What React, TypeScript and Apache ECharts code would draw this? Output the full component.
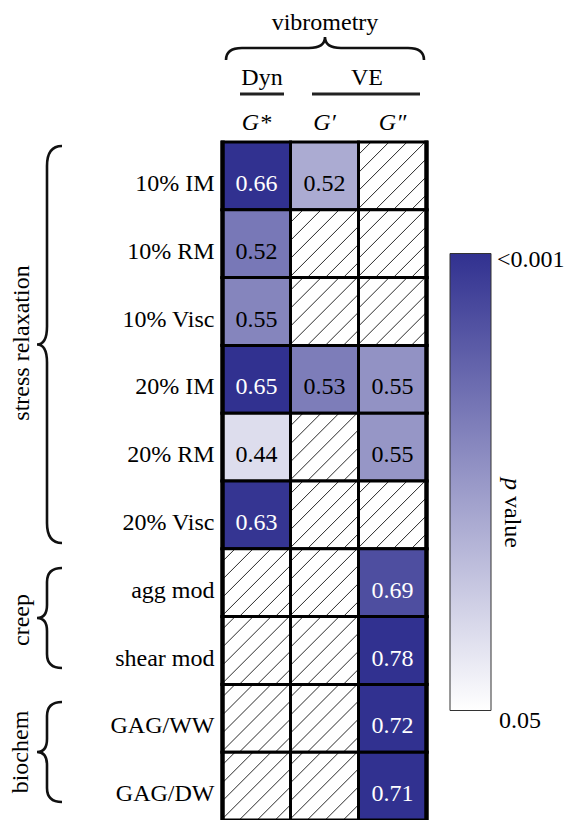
import React, { useEffect, useRef } from "react";
import * as echarts from "echarts";

const rowLabels = ["10% IM", "10% RM", "10% Visc", "20% IM", "20% RM", "20% Visc", "agg mod", "shear mod", "GAG/WW", "GAG/DW"];
const colLabels = ["G*", "G\u2032", "G\u2033"];

// correlation coefficients (r) shown in the cells; null = not significant (hatched)
const rGStar = [0.66, 0.52, 0.55, 0.65, 0.44, 0.63, null, null, null, null];
const rGPrime = [0.52, null, null, 0.53, null, null, null, null, null, null];
const rGDouble = [null, null, null, 0.55, 0.55, null, 0.69, 0.78, 0.72, 0.71];

// p values (colour), estimated from the colour scale
const pGStar = [0.001, 0.018, 0.021, 0.001, 0.042, 0.002, null, null, null, null];
const pGPrime = [0.03, null, null, 0.019, null, null, null, null, null, null];
const pGDouble = [null, null, null, 0.024, 0.025, null, 0.008, 0.001, 0.001, 0.001];

const pMin = 0.001;
const pMax = 0.05;
const scaleLabels = ["<0.001", "0.05"];
const groupLabels = ["stress relaxation", "creep", "biochem"];

const DARK = "#313190";
const LIGHT = "#ffffff";
const FONT = "'Liberation Serif', 'Times New Roman', serif";
const FS = 24;

const braceV = (xe: number, y0: number, y1: number, xs: number, xt: number, aEnd: number, aTip: number) => {
  const ym = (y0 + y1) / 2;
  return `M${xe} ${y0} Q${xs} ${y0} ${xs} ${y0 + aEnd} L${xs} ${ym - aTip} Q${xs} ${ym} ${xt} ${ym} Q${xs} ${ym} ${xs} ${ym + aTip} L${xs} ${y1 - aEnd} Q${xs} ${y1} ${xe} ${y1}`;
};
const braceH = (x0: number, x1: number, ye: number, ys: number, yt: number, aEnd: number, aTip: number) => {
  const xm = (x0 + x1) / 2;
  return `M${x0} ${ye} Q${x0} ${ys} ${x0 + aEnd} ${ys} L${xm - aTip} ${ys} Q${xm} ${ys} ${xm} ${yt} Q${xm} ${ys} ${xm + aTip} ${ys} L${x1 - aEnd} ${ys} Q${x1} ${ys} ${x1} ${ye}`;
};

echarts.graphic.registerShape("braceStress", echarts.graphic.extendPath(braceV(62, 146, 543, 47, 37, 20, 18), {}));
echarts.graphic.registerShape("braceCreep", echarts.graphic.extendPath(braceV(62, 568, 668, 47, 37, 14, 13), {}));
echarts.graphic.registerShape("braceBio", echarts.graphic.extendPath(braceV(62, 702, 802, 47, 37, 14, 13), {}));
echarts.graphic.registerShape("braceVib", echarts.graphic.extendPath(braceH(226, 424, 60, 48, 37, 16, 16), {}));

export default function App() {
  const ref = useRef<HTMLDivElement>(null);

  useEffect(() => {
    if (!ref.current) return;
    const chart = echarts.init(ref.current, null, { renderer: "svg" });

    const rCols = [rGStar, rGPrime, rGDouble];
    const pCols = [pGStar, pGPrime, pGDouble];
    const data: any[] = [];
    rCols.forEach((col, c) => {
      col.forEach((rv, r) => {
        const p = pCols[c][r];
        const hatched = p == null || rv == null;
        data.push({ value: [c, r, hatched ? pMax : p, hatched ? 0 : rv, hatched ? 1 : 0] });
      });
    });

    const braceStyle = { stroke: "#111", fill: "none", lineWidth: 2.6 };
    const textBase = { fill: "#000", fontFamily: FONT, fontSize: FS };
    const mid = { align: "center", verticalAlign: "middle" };

    const option: any = {
      animation: false,
      backgroundColor: "#fff",
      grid: { left: 222.5, top: 142, width: 204, height: 682.5, containLabel: false },
      xAxis: {
        type: "category",
        data: colLabels,
        position: "top",
        axisLine: { show: false },
        axisTick: { show: false },
        splitLine: { show: false },
        axisLabel: {
          color: "#000",
          fontFamily: FONT,
          fontStyle: "italic",
          fontSize: FS,
          margin: 20,
          verticalAlign: "middle",
        },
      },
      yAxis: {
        type: "category",
        data: rowLabels,
        inverse: true,
        axisLine: { show: false },
        axisTick: { show: false },
        splitLine: { show: false },
        axisLabel: {
          margin: 8,
          formatter: (v: string) => `{a|${v}}`,
          rich: {
            a: { color: "#000", fontFamily: FONT, fontSize: FS, padding: [14, 0, 0, 0] },
          },
        },
      },
      visualMap: {
        show: false,
        type: "continuous",
        dimension: 2,
        min: pMin,
        max: pMax,
        seriesIndex: 0,
        inRange: { color: [DARK, LIGHT] },
      },
      series: [
        {
          type: "custom",
          data,
          encode: { x: 0, y: 1 },
          renderItem: (params: any, api: any) => {
            const c = api.value(0);
            const r = api.value(1);
            const p = api.value(2);
            const rv = api.value(3);
            const hatched = api.value(4) === 1;
            const center = api.coord([c, r]);
            const size = api.size([1, 1]);
            const w = size[0];
            const h = size[1];
            const x0 = center[0] - w / 2;
            const y0 = center[1] - h / 2;
            const children: any[] = [];
            children.push({
              type: "rect",
              shape: { x: x0, y: y0, width: w, height: h },
              style: { fill: hatched ? "#fff" : api.visual("color"), stroke: "none" },
            });
            if (hatched) {
              const step = 18;
              for (let k = step * 0.7; k < w + h; k += step) {
                let x1, y1, x2, y2;
                if (k <= h) {
                  x1 = x0; y1 = y0 + k;
                } else {
                  x1 = x0 + (k - h); y1 = y0 + h;
                }
                if (k <= w) {
                  x2 = x0 + k; y2 = y0;
                } else {
                  x2 = x0 + w; y2 = y0 + (k - w);
                }
                children.push({
                  type: "line",
                  shape: { x1, y1, x2, y2 },
                  style: { stroke: "#2a2a2a", lineWidth: 1 },
                });
              }
            }
            children.push({
              type: "rect",
              shape: { x: x0, y: y0, width: w, height: h },
              style: { fill: "none", stroke: "#000", lineWidth: 3 },
            });
            if (c === 0) {
              children.push({ type: "line", shape: { x1: x0, y1: y0 - 1.5, x2: x0, y2: y0 + h + 1.5 }, style: { stroke: "#000", lineWidth: 4.5 } });
            }
            if (c === colLabels.length - 1) {
              children.push({ type: "line", shape: { x1: x0 + w, y1: y0 - 1.5, x2: x0 + w, y2: y0 + h + 1.5 }, style: { stroke: "#000", lineWidth: 4.5 } });
            }
            if (!hatched) {
              const white = p < 0.012;
              children.push({
                type: "text",
                x: center[0],
                y: center[1] + 7,
                style: {
                  text: rv.toFixed(2),
                  x: 0,
                  y: 0,
                  align: "center",
                  verticalAlign: "middle",
                  fill: white ? "#fff" : "#000",
                  font: `${FS}px ${FONT}`,
                  fontFamily: FONT,
                  fontSize: FS,
                },
              });
            }
            return { type: "group", children };
          },
        },
      ],
      graphic: [
        // colour bar
        {
          type: "rect",
          shape: { x: 450, y: 253.5, width: 41, height: 457 },
          style: {
            fill: new echarts.graphic.LinearGradient(0, 0, 0, 1, [
              { offset: 0, color: DARK },
              { offset: 1, color: LIGHT },
            ]),
            stroke: "#333",
            lineWidth: 1,
          },
        },
        { type: "text", x: 497, y: 259, style: { ...textBase, text: scaleLabels[0], align: "left", verticalAlign: "middle" } },
        { type: "text", x: 499, y: 720, style: { ...textBase, text: scaleLabels[1], align: "left", verticalAlign: "middle" } },
        {
          type: "text",
          x: 513,
          y: 513,
          rotation: -Math.PI / 2,
          style: {
            ...textBase,
            rich: { i: { fontStyle: "italic", fontFamily: FONT, fontSize: FS }, n: { fontFamily: FONT, fontSize: FS } },
            text: "{i|p} {n|value}",
            ...mid,
          },
        },
        // top header
        { type: "text", x: 325, y: 22, style: { ...textBase, text: "vibrometry", ...mid } },
        { type: "braceVib", style: braceStyle },
        { type: "text", x: 262, y: 77, style: { ...textBase, text: "Dyn", ...mid } },
        { type: "text", x: 367, y: 77, style: { ...textBase, text: "VE", ...mid } },
        { type: "line", shape: { x1: 240, y1: 94, x2: 284, y2: 94 }, style: { stroke: "#222", lineWidth: 3 } },
        { type: "line", shape: { x1: 312, y1: 94, x2: 420, y2: 94 }, style: { stroke: "#222", lineWidth: 3 } },
        // left group labels
        { type: "braceStress", style: braceStyle },
        { type: "braceCreep", style: braceStyle },
        { type: "braceBio", style: braceStyle },
        { type: "text", x: 21, y: 343, rotation: Math.PI / 2, style: { ...textBase, text: groupLabels[0], ...mid } },
        { type: "text", x: 21, y: 620, rotation: Math.PI / 2, style: { ...textBase, text: groupLabels[1], ...mid } },
        { type: "text", x: 20, y: 752, rotation: Math.PI / 2, style: { ...textBase, text: groupLabels[2], ...mid } },
      ],
    };

    chart.setOption(option);
    return () => chart.dispose();
  }, []);

  return <div ref={ref} style={{ position: "absolute", left: 0, top: 0, width: 566, height: 820, background: "#fff" }} />;
}
